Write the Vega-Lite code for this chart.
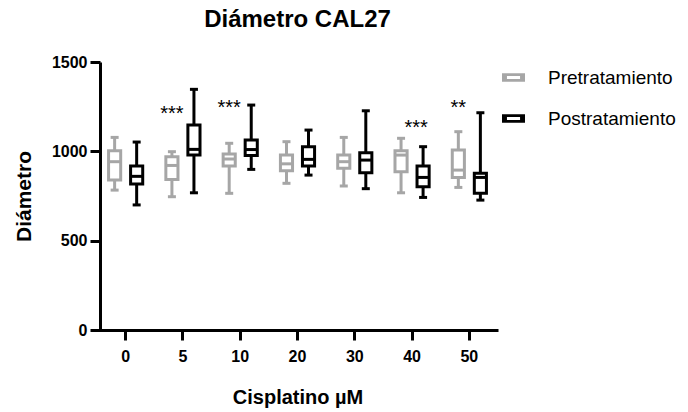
{
  "$schema": "https://vega.github.io/schema/vega-lite/v6.json",
  "autosize": {"type": "none"},
  "width": 401,
  "height": 268,
  "padding": {"left": 97, "top": 62, "right": 190, "bottom": 82},
  "background": "white",
  "config": {
    "font": "Liberation Sans",
    "view": {"stroke": null},
    "axis": {"grid": false, "domainColor": "black", "domainWidth": 3, "tickColor": "black", "tickWidth": 3, "tickSize": 10, "labelColor": "black", "titleColor": "black", "labelFont": "Liberation Sans", "titleFont": "Liberation Sans", "labelFontWeight": "bold", "titleFontWeight": "bold", "labelFontSize": 16, "titleFontSize": 20}
  },
  "title": {"text": "Diámetro CAL27", "fontSize": 24, "fontWeight": "bold", "font": "Liberation Sans", "anchor": "middle", "frame": "group", "color": "black", "baseline": "alphabetic", "offset": 3},
  "datasets": {
    "boxes": [
      {"cisplatino": "0", "grupo": "Pretratamiento", "min": 783, "q1": 839, "mediana": 942, "q3": 1003, "max": 1078},
      {"cisplatino": "0", "grupo": "Postratamiento", "min": 700, "q1": 817, "mediana": 860, "q3": 918, "max": 1052},
      {"cisplatino": "5", "grupo": "Pretratamiento", "min": 746, "q1": 843, "mediana": 921, "q3": 970, "max": 998},
      {"cisplatino": "5", "grupo": "Postratamiento", "min": 768, "q1": 979, "mediana": 1011, "q3": 1147, "max": 1347},
      {"cisplatino": "10", "grupo": "Pretratamiento", "min": 765, "q1": 918, "mediana": 957, "q3": 985, "max": 1045},
      {"cisplatino": "10", "grupo": "Postratamiento", "min": 899, "q1": 977, "mediana": 1010, "q3": 1063, "max": 1259},
      {"cisplatino": "20", "grupo": "Pretratamiento", "min": 821, "q1": 892, "mediana": 930, "q3": 979, "max": 1054},
      {"cisplatino": "20", "grupo": "Postratamiento", "min": 867, "q1": 918, "mediana": 955, "q3": 1026, "max": 1119},
      {"cisplatino": "30", "grupo": "Pretratamiento", "min": 806, "q1": 905, "mediana": 942, "q3": 979, "max": 1078},
      {"cisplatino": "30", "grupo": "Postratamiento", "min": 791, "q1": 880, "mediana": 951, "q3": 992, "max": 1227},
      {"cisplatino": "40", "grupo": "Pretratamiento", "min": 768, "q1": 886, "mediana": 979, "q3": 1003, "max": 1073},
      {"cisplatino": "40", "grupo": "Postratamiento", "min": 742, "q1": 802, "mediana": 854, "q3": 918, "max": 1026},
      {"cisplatino": "50", "grupo": "Pretratamiento", "min": 798, "q1": 854, "mediana": 895, "q3": 1007, "max": 1110},
      {"cisplatino": "50", "grupo": "Postratamiento", "min": 727, "q1": 765, "mediana": 854, "q3": 877, "max": 1216}
    ],
    "stars": [
      {"cisplatino": "5", "grupo": "Pretratamiento", "y": 1237, "label": "***"},
      {"cisplatino": "10", "grupo": "Pretratamiento", "y": 1272, "label": "***"},
      {"cisplatino": "50", "grupo": "Pretratamiento", "y": 1272, "label": "**"}
    ],
    "stars_center": [
      {"cisplatino": "40", "y": 1160, "label": "***"}
    ]
  },
  "encoding": {
    "x": {"field": "cisplatino", "type": "nominal", "sort": ["0", "5", "10", "20", "30", "40", "50"],
      "scale": {"domain": ["0", "5", "10", "20", "30", "40", "50"], "paddingInner": 0, "paddingOuter": 0},
      "axis": {"title": "Cisplatino µM", "labelAngle": 0, "labelPadding": 8, "titlePadding": 23}}
  },
  "layer": [
    {
      "data": {"name": "boxes"},
      "mark": {"type": "bar", "filled": false, "strokeWidth": 3},
      "encoding": {
        "xOffset": {"field": "grupo", "type": "nominal", "scale": {"domain": ["Pretratamiento", "Postratamiento"], "paddingInner": 0.45, "paddingOuter": 0.525}},
        "y": {"field": "q1", "type": "quantitative", "scale": {"domain": [0, 1500], "nice": false, "zero": true},
          "axis": {"title": "Diámetro", "titleFontSize": 21, "values": [0, 500, 1000, 1500], "format": "d", "offset": -3, "labelPadding": 3, "titlePadding": 17}},
        "y2": {"field": "q3"},
        "color": {"field": "grupo", "type": "nominal", "sort": ["Pretratamiento", "Postratamiento"],
          "scale": {"domain": ["Pretratamiento", "Postratamiento"], "range": ["#a6a6a6", "#000000"]},
          "legend": {"title": null, "orient": "none", "legendX": 405, "legendY": 4, "padding": 0,
            "symbolType": "M-1,-0.37H1V0.37H-1Z M-0.57,-0.12V0.12H0.57V-0.12Z", "symbolSize": 529, "symbolStrokeWidth": 0,
            "labelFontSize": 19, "labelFont": "Liberation Sans", "labelColor": "black", "labelOffset": 23, "rowPadding": 19, "labelLimit": 300,
            "encode": {"symbols": {"update": {"fill": {"scale": "color", "field": "value"}, "fillOpacity": {"value": 1}, "strokeWidth": {"value": 0}, "opacity": {"value": 1}}}}}
        }
      }
    },
    {
      "data": {"name": "boxes"},
      "mark": {"type": "rule", "strokeWidth": 3},
      "encoding": {
        "xOffset": {"field": "grupo", "type": "nominal"},
        "y": {"field": "min", "type": "quantitative"},
        "y2": {"field": "q1"},
        "color": {"field": "grupo", "type": "nominal"}
      }
    },
    {
      "data": {"name": "boxes"},
      "mark": {"type": "rule", "strokeWidth": 3},
      "encoding": {
        "xOffset": {"field": "grupo", "type": "nominal"},
        "y": {"field": "q3", "type": "quantitative"},
        "y2": {"field": "max"},
        "color": {"field": "grupo", "type": "nominal"}
      }
    },
    {
      "data": {"name": "boxes"},
      "mark": {"type": "tick", "thickness": 3, "size": 8, "opacity": 1},
      "encoding": {
        "xOffset": {"field": "grupo", "type": "nominal"},
        "y": {"field": "min", "type": "quantitative"},
        "color": {"field": "grupo", "type": "nominal"}
      }
    },
    {
      "data": {"name": "boxes"},
      "mark": {"type": "tick", "thickness": 3, "size": 8, "opacity": 1},
      "encoding": {
        "xOffset": {"field": "grupo", "type": "nominal"},
        "y": {"field": "max", "type": "quantitative"},
        "color": {"field": "grupo", "type": "nominal"}
      }
    },
    {
      "data": {"name": "boxes"},
      "mark": {"type": "tick", "thickness": 3, "size": 12, "opacity": 1},
      "encoding": {
        "xOffset": {"field": "grupo", "type": "nominal"},
        "y": {"field": "mediana", "type": "quantitative"},
        "color": {"field": "grupo", "type": "nominal"}
      }
    },
    {
      "data": {"name": "stars"},
      "mark": {"type": "text", "fontSize": 20, "font": "Liberation Sans", "color": "black", "baseline": "middle", "dy": 5},
      "encoding": {
        "xOffset": {"field": "grupo", "type": "nominal"},
        "y": {"field": "y", "type": "quantitative"},
        "text": {"field": "label"}
      }
    },
    {
      "data": {"name": "stars_center"},
      "mark": {"type": "text", "fontSize": 20, "font": "Liberation Sans", "color": "black", "baseline": "middle", "dy": 5, "dx": 4},
      "encoding": {
        "y": {"field": "y", "type": "quantitative"},
        "text": {"field": "label"}
      }
    }
  ]
}
